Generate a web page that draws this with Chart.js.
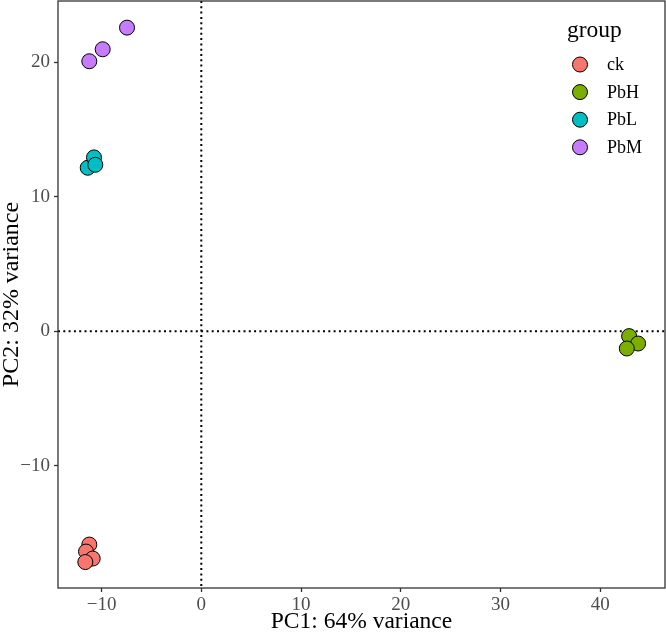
<!DOCTYPE html>
<html>
<head>
<meta charset="utf-8">
<script src="https://cdn.jsdelivr.net/npm/chart.js@4"></script>
<style>
  html, body { margin: 0; padding: 0; background: #fff; }
  #wrap { width: 666px; height: 635px; }
</style>
</head>
<body>
<div id="wrap"><canvas id="pca" width="666" height="635"></canvas></div>
<script>
// ---- data ----
const groups = ["ck", "PbH", "PbL", "PbM"];
const groupColors = ["#F8766D", "#7CAE00", "#00BFC4", "#C77CFF"];

const ckX  = [-11.23, -11.56, -10.89, -11.63];
const ckY  = [-15.87, -16.39, -16.91, -17.17];
const pbhX = [42.90, 43.80, 42.67];
const pbhY = [-0.37, -0.92, -1.29];
const pblX = [-11.39, -10.76, -10.63];
const pblY = [12.15, 12.92, 12.37];
const pbmX = [-7.45, -9.89, -11.23];
const pbmY = [22.57, 20.96, 20.07];

const xTicks = [-10, 0, 10, 20, 30, 40];
const yTicks = [-10, 0, 10, 20];
const xRange = [-14.37, 46.5];
const yRange = [-19.1, 24.55];

const xTitle = "PC1: 64% variance";
const yTitle = "PC2: 32% variance";
const legendTitle = "group";

const SERIF = "'Liberation Serif', 'DejaVu Serif', serif";

const pts = (xs, ys) => xs.map((x, i) => ({ x, y: ys[i] }));
const seriesXY = [pts(ckX, ckY), pts(pbhX, pbhY), pts(pblX, pblY), pts(pbmX, pbmY)];

const fmtMinus = (v) => (v < 0 ? "\u2212" + Math.abs(v) : String(v));

// keep the panel edge pinned: no extra padding for overhanging tick labels
function noScalePadding(s) {
  s.paddingTop = 0;
  s.paddingBottom = 0;
  s.paddingLeft = 0;
  s.paddingRight = 0;
}

// panel border + dotted zero lines, drawn under the points
const panelPlugin = {
  id: "panel",
  beforeDatasetsDraw(chart) {
    const { ctx, chartArea: a, scales } = chart;
    const x0 = scales.x.getPixelForValue(0);
    const y0 = scales.y.getPixelForValue(0);
    ctx.save();
    ctx.strokeStyle = "#000";
    ctx.lineWidth = 2;
    ctx.setLineDash([2, 3.3]);
    ctx.beginPath();
    ctx.moveTo(x0, a.top); ctx.lineTo(x0, a.bottom);
    ctx.moveTo(a.left, y0); ctx.lineTo(a.right, y0);
    ctx.stroke();
    ctx.setLineDash([]);
    ctx.lineWidth = 1.3;
    ctx.strokeStyle = "#333";
    ctx.strokeRect(a.left, a.top, a.right - a.left, a.bottom - a.top);
    ctx.restore();
  }
};

// ggplot-like legend inside the top right of the panel
const legendPlugin = {
  id: "ggLegend",
  afterDraw(chart) {
    const { ctx } = chart;
    ctx.save();
    ctx.fillStyle = "#000";
    ctx.font = "23.5px " + SERIF;
    ctx.textBaseline = "alphabetic";
    ctx.fillText(legendTitle, 567, 37);
    ctx.font = "18px " + SERIF;
    ctx.textBaseline = "middle";
    groups.forEach((g, i) => {
      const cy = 64.5 + i * 27.6;
      ctx.beginPath();
      ctx.arc(580, cy, 7.5, 0, Math.PI * 2);
      ctx.fillStyle = groupColors[i];
      ctx.fill();
      ctx.lineWidth = 1;
      ctx.strokeStyle = "#000";
      ctx.stroke();
      ctx.fillStyle = "#000";
      ctx.fillText(g, 607, cy + 1);
    });
    ctx.restore();
  }
};

new Chart(document.getElementById("pca").getContext("2d"), {
  type: "scatter",
  data: {
    datasets: groups.map((g, i) => ({
      label: g,
      data: seriesXY[i],
      backgroundColor: groupColors[i],
      borderColor: "#000",
      borderWidth: 1,
      pointRadius: 7.5,
      pointHoverRadius: 7.5
    }))
  },
  options: {
    responsive: false,
    animation: false,
    layout: { autoPadding: false, padding: { top: 1, right: 1, left: 0, bottom: 0 } },
    plugins: { legend: { display: false }, tooltip: { enabled: false } },
    scales: {
      x: {
        type: "linear",
        min: xRange[0],
        max: xRange[1],
        afterBuildTicks: (s) => { s.ticks = xTicks.map(v => ({ value: v })); },
        afterFit: (s) => { s.height = 47; noScalePadding(s); },
        ticks: {
          callback: fmtMinus,
          font: { family: SERIF, size: 19 },
          color: "#4d4d4d",
          padding: 2,
          maxRotation: 0
        },
        grid: { drawOnChartArea: false, drawTicks: true, tickLength: 4, tickWidth: 1.3, tickColor: "#333" },
        border: { display: false },
        title: {
          display: true,
          text: xTitle,
          color: "#000",
          font: { family: SERIF, size: 23.5, lineHeight: 1 },
          padding: { top: 0, bottom: 1 }
        }
      },
      y: {
        type: "linear",
        min: yRange[0],
        max: yRange[1],
        afterBuildTicks: (s) => { s.ticks = yTicks.map(v => ({ value: v })); },
        afterFit: (s) => { s.width = 58; noScalePadding(s); },
        ticks: {
          callback: fmtMinus,
          font: { family: SERIF, size: 19 },
          color: "#4d4d4d",
          padding: 4
        },
        grid: { drawOnChartArea: false, drawTicks: true, tickLength: 4, tickWidth: 1.3, tickColor: "#333" },
        border: { display: false },
        title: {
          display: true,
          text: yTitle,
          color: "#000",
          font: { family: SERIF, size: 24, lineHeight: 1 },
          padding: { top: 0, bottom: 0 }
        }
      }
    }
  },
  plugins: [panelPlugin, legendPlugin]
});
</script>
</body>
</html>
